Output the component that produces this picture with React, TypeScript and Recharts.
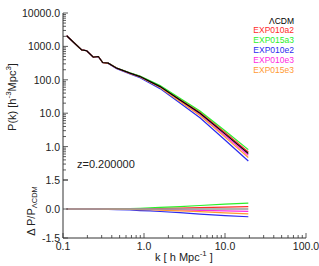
import { LineChart, Line, XAxis, YAxis } from "recharts"

const FONT = "'Liberation Sans', Arial, Helvetica, sans-serif"
const AXIS = "#333"

// wavenumbers
const kValues = [0.111, 0.17, 0.196, 0.237, 0.273, 0.309, 0.362, 0.46, 0.671, 0.893, 1.19, 1.58, 2.78, 4.91, 10, 19.4]

// P(k) per model
const pLCDM = [2080, 790, 740, 478, 498, 329, 315, 223, 158, 125, 88, 62.5, 24.9, 9.9, 2.4, 0.62]
const pA2 = [2080, 790, 740, 478, 498, 329, 317, 225, 160, 127, 90, 64.4, 26.1, 10.6, 2.64, 0.69]
const pA3 = [2080, 790, 740, 478, 498, 331, 318, 226, 162, 130, 93, 67.5, 27.9, 11.7, 3.0, 0.81]
const pE2 = [2080, 790, 740, 476, 493, 326, 309, 216, 150, 115, 79, 54.4, 20.2, 7.3, 1.58, 0.37]
const pE3 = [2080, 790, 740, 478, 498, 329, 313, 221, 156, 123, 86, 60.6, 23.7, 9.2, 2.16, 0.55]
const pE3b = [2080, 790, 740, 478, 498, 327, 312, 221, 155, 121, 84.5, 58.8, 22.4, 8.5, 1.92, 0.47]

// Delta P / P_LCDM per model
const dLCDM = [0, 0, 0, 0, 0, 0, 0, 0, 0, 0, 0, 0, 0, 0, 0, 0]
const dA2 = [0, 0, 0, 0, 0, 0, 0.005, 0.01, 0.01, 0.015, 0.02, 0.03, 0.05, 0.07, 0.1, 0.12]
const dA3 = [0, 0, 0, 0, 0, 0.005, 0.01, 0.015, 0.025, 0.04, 0.06, 0.08, 0.12, 0.18, 0.25, 0.3]
const dE2 = [0, 0, 0, -0.005, -0.01, -0.01, -0.02, -0.03, -0.05, -0.08, -0.1, -0.13, -0.19, -0.26, -0.34, -0.4]
const dE3 = [0, 0, 0, 0, 0, 0, -0.005, -0.01, -0.01, -0.015, -0.02, -0.03, -0.05, -0.07, -0.1, -0.12]
const dE3b = [0, 0, 0, 0, 0, -0.005, -0.01, -0.01, -0.02, -0.03, -0.04, -0.06, -0.1, -0.14, -0.2, -0.25]

const seriesKeys = ["lcdm", "a2", "a3", "e2", "e3", "e3b"]
const seriesNames = ["ΛCDM", "EXP010a2", "EXP015a3", "EXP010e2", "EXP010e3", "EXP015e3"]
const seriesColors = ["#000000", "#ff2b2b", "#2bef2b", "#2b2bef", "#ff2bdf", "#ff9a33"]

const kMajor = [0.1, 1, 10, 100]
const pMajor = [0.1, 1, 10, 100, 1000, 10000]
const dTicks = [-1.5, 0, 1.5]

const withMinors = (majors: number[]) => {
  const out: number[] = []
  majors.forEach((m, i) => {
    out.push(m)
    if (i < majors.length - 1) for (let j = 2; j <= 9; j++) out.push(+(m * j).toPrecision(6))
  })
  return out
}
const kTicks = withMinors(kMajor)
const pTicks = withMinors(pMajor)

const topData = kValues.map((k, i) => ({
  k, lcdm: pLCDM[i], a2: pA2[i], a3: pA3[i], e2: pE2[i], e3: pE3[i], e3b: pE3b[i],
}))
const bottomData = kValues.map((k, i) => ({
  k, lcdm: dLCDM[i], a2: dA2[i], a3: dA3[i], e2: dE2[i], e3: dE3[i], e3b: dE3b[i],
}))

const isDecade = (v: number) => Math.abs(Math.log10(v) - Math.round(Math.log10(v))) < 1e-6

type Side = "left" | "right" | "top" | "bottom"

// ticks drawn inward (IDL style), label optional
const makeTick = (side: Side, major: (v: number) => boolean, label?: (v: number) => string | null) =>
  (props: any) => {
    const { x, y, payload } = props
    const v = payload.value
    const len = major(v) ? 5 : 3
    let x2 = x, y2 = y
    if (side === "left") x2 = x + len
    if (side === "right") x2 = x - len
    if (side === "top") y2 = y + len
    if (side === "bottom") y2 = y - len
    const txt = label ? label(v) : null
    return (
      <g>
        <line x1={x} y1={y} x2={x2} y2={y2} stroke={AXIS} strokeWidth={0.8} />
        {txt !== null && side === "left" && (
          <text x={x - 3} y={y} textAnchor="end" dominantBaseline="central" fontSize={10.5} fontFamily={FONT} fill="#222">{txt}</text>
        )}
        {txt !== null && side === "bottom" && (
          <text x={x} y={y + 8} textAnchor="middle" dominantBaseline="central" fontSize={10.5} fontFamily={FONT} fill="#222">{txt}</text>
        )}
      </g>
    )
  }

const axisCommon = {
  tickLine: false,
  tickSize: 0,
  tickMargin: 0,
  interval: 0 as const,
  axisLine: { stroke: AXIS, strokeWidth: 1 },
  allowDataOverflow: true,
}

const xCommon = {
  ...axisCommon,
  type: "number" as const,
  dataKey: "k",
  scale: "log" as const,
  domain: [0.1, 100],
  ticks: kTicks,
}

const lineOrder = [1, 2, 3, 4, 5, 0]

const TopPanel = () => (
  <LineChart width={319} height={181} data={topData} margin={{ top: 13, right: 13, bottom: 1, left: 0 }}>
    <XAxis {...xCommon} height={0} tick={makeTick("bottom", isDecade)} />
    <XAxis {...xCommon} xAxisId="top" orientation="top" height={0} tick={makeTick("top", isDecade)} />
    <YAxis
      {...axisCommon}
      type="number"
      scale="log"
      domain={[0.1, 10000]}
      ticks={pTicks}
      width={63}
      tick={makeTick("left", isDecade, (v) => (isDecade(v) && v > 0.5 ? v.toFixed(1) : null))}
    />
    <YAxis
      {...axisCommon}
      yAxisId="right"
      orientation="right"
      type="number"
      scale="log"
      domain={[0.1, 10000]}
      ticks={pTicks}
      width={0}
      tick={makeTick("right", isDecade)}
    />
    {lineOrder.map((i) => (
      <Line
        key={seriesKeys[i]}
        type="linear"
        dataKey={seriesKeys[i]}
        stroke={seriesColors[i]}
        strokeWidth={1.2}
        dot={false}
        isAnimationActive={false}
      />
    ))}
    <text transform="translate(12,97) rotate(-90)" textAnchor="middle" dominantBaseline="central" fontSize={11} fontFamily={FONT} fill="#222">
      P(k) [h<tspan dy={-4} fontSize={8}>-3</tspan><tspan dy={4}>Mpc</tspan><tspan dy={-4} fontSize={8}>3</tspan><tspan dy={4}>]</tspan>
    </text>
    <text x={77} y={164} dominantBaseline="central" fontSize={11} fontFamily={FONT} fill="#222">z=0.200000</text>
    {seriesNames.map((name, i) => (
      <text key={name} x={294} y={20.5 + i * 9.9} textAnchor="end" dominantBaseline="central" fontSize={8.5} fontFamily={FONT} fill={seriesColors[i]}>
        {name}
      </text>
    ))}
  </LineChart>
)

const BottomPanel = () => (
  <LineChart width={319} height={266} data={bottomData} margin={{ top: 180, right: 13, bottom: 0, left: 0 }}>
    <XAxis {...xCommon} height={28} tick={makeTick("bottom", isDecade, (v) => (isDecade(v) ? v.toFixed(1) : null))} />
    <XAxis {...xCommon} xAxisId="top" orientation="top" height={0} tick={makeTick("top", isDecade)} />
    <YAxis
      {...axisCommon}
      type="number"
      domain={[-1.5, 1.5]}
      ticks={dTicks}
      width={63}
      tick={makeTick("left", () => true, (v) => v.toFixed(1))}
    />
    <YAxis
      {...axisCommon}
      yAxisId="right"
      orientation="right"
      type="number"
      domain={[-1.5, 1.5]}
      ticks={dTicks}
      width={0}
      tick={makeTick("right", () => true)}
    />
    {lineOrder.map((i) => (
      <Line
        key={seriesKeys[i]}
        type="linear"
        dataKey={seriesKeys[i]}
        stroke={i === 0 ? "#9a9a9a" : seriesColors[i]}
        strokeWidth={i === 0 ? 1.6 : 1.2}
        dot={false}
        isAnimationActive={false}
      />
    ))}
    <text transform="translate(31,211) rotate(-90)" textAnchor="middle" dominantBaseline="central" fontSize={11} fontFamily={FONT} fill="#222">
      Δ P/P<tspan dy={3} fontSize={7.5}>ΛCDM</tspan>
    </text>
    <text x={184} y={257} textAnchor="middle" dominantBaseline="central" fontSize={11} fontFamily={FONT} fill="#222">
      k [ h Mpc<tspan dy={-4} fontSize={8}>-1</tspan><tspan dy={4}> ]</tspan>
    </text>
  </LineChart>
)

export default function App() {
  return (
    <div style={{ position: "absolute", left: 0, top: 0, width: 319, height: 266, background: "#fff" }}>
      <div style={{ position: "absolute", left: 0, top: 0 }}>
        <TopPanel />
      </div>
      <div style={{ position: "absolute", left: 0, top: 0 }}>
        <BottomPanel />
      </div>
    </div>
  )
}
